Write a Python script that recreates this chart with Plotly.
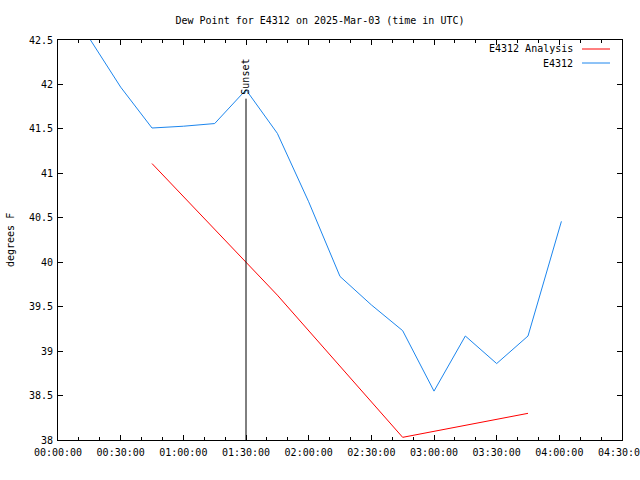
import plotly.graph_objects as go

day = "2025-03-03 "
obs_times = ["00:15:00", "00:30:00", "00:45:00", "01:00:00", "01:15:00", "01:30:00",
             "01:45:00", "02:00:00", "02:15:00", "02:30:00", "02:45:00", "03:00:00",
             "03:15:00", "03:30:00", "03:45:00", "04:01:00"]
obs_values = [42.52, 41.97, 41.51, 41.53, 41.56, 41.94, 41.45, 40.68, 39.84, 39.52,
              39.23, 38.55, 39.17, 38.86, 39.17, 40.46]

ana_times = ["00:45:00", "01:45:00", "02:45:00", "03:45:00"]
ana_values = [41.11, 39.63, 38.03, 38.30]

sunset_time = "01:30:00"
sunset_top = 41.84

tick_times = ["00:00:00", "00:30:00", "01:00:00", "01:30:00", "02:00:00",
              "02:30:00", "03:00:00", "03:30:00", "04:00:00", "04:30:00"]

FONT = "DejaVu Sans Mono"
BLUE = "#1c86ee"
RED = "#ff0000"

fig = go.Figure()
fig.add_trace(go.Scatter(x=[day + t for t in ana_times], y=ana_values, mode="lines",
                         line=dict(color=RED, width=1), name="E4312 Analysis",
                         showlegend=False))
fig.add_trace(go.Scatter(x=[day + t for t in obs_times], y=obs_values, mode="lines",
                         line=dict(color=BLUE, width=1), name="E4312",
                         showlegend=False))

fig.add_shape(type="line", xref="x", yref="y", x0=day + sunset_time, x1=day + sunset_time,
              y0=38, y1=sunset_top, line=dict(color="black", width=1))
fig.add_annotation(x=day + sunset_time, y=sunset_top, xref="x", yref="y", text="Sunset",
                   textangle=-90, showarrow=False, yanchor="bottom", xanchor="center",
                   yshift=2, font=dict(family=FONT, size=10, color="black"))

# legend drawn gnuplot-style (text then sample line)
legend_items = [("E4312 Analysis", RED), ("E4312", BLUE)]
for i, (label, col) in enumerate(legend_items):
    ypix = 49 + 14 * i
    yp = 1 - (ypix - 40) / 400.0
    fig.add_annotation(x=(575 - 58) / 564.0, y=yp, xref="paper", yref="paper", text=label,
                       showarrow=False, xanchor="right", yanchor="middle",
                       font=dict(family=FONT, size=10, color="black"))
    fig.add_shape(type="line", xref="paper", yref="paper",
                  x0=(582 - 58) / 564.0, x1=(610 - 58) / 564.0, y0=yp, y1=yp,
                  line=dict(color=col, width=1))

fig.add_annotation(x=0, y=0.5, xref="paper", yref="paper", text="degrees F", textangle=-90,
                   showarrow=False, xshift=-48, xanchor="center",
                   font=dict(family=FONT, size=10, color="black"))

# last tick label (partly beyond page edge in the original)
fig.add_annotation(x=day + tick_times[-1], y=0, xref="x", yref="paper", text=tick_times[-1],
                   showarrow=False, xanchor="center", yanchor="top", yshift=-5,
                   font=dict(family=FONT, size=10, color="black"))

fig.update_layout(
    width=640, height=480,
    margin=dict(l=58, r=18, t=40, b=40),
    paper_bgcolor="white", plot_bgcolor="white",
    title=dict(text="Dew Point for E4312 on 2025-Mar-03 (time in UTC)", x=0.5, xanchor="center",
               y=1 - 20 / 480, yanchor="middle",
               font=dict(family=FONT, size=10, color="black")),
    font=dict(family=FONT, size=10, color="black"),
    showlegend=False,
)
fig.update_xaxes(
    type="date", range=[day + "00:00:00", day + "04:30:00"],
    tickvals=[day + t for t in tick_times[:-1]], ticktext=tick_times[:-1],
    showgrid=False, zeroline=False, showline=True, linecolor="black", linewidth=1,
    mirror="ticks", ticks="inside", ticklen=5, tickcolor="black",
    ticklabelstandoff=3,
    minor=dict(dtick=600000, ticks="inside", ticklen=3, tickcolor="black", showgrid=False),
    tickfont=dict(family=FONT, size=10, color="black"),
)
fig.update_yaxes(
    range=[38, 42.5], dtick=0.5, tick0=38,
    showgrid=False, zeroline=False, showline=True, linecolor="black", linewidth=1,
    mirror="ticks", ticks="inside", ticklen=5, tickcolor="black",
    ticklabelstandoff=2,
    tickfont=dict(family=FONT, size=10, color="black"),
)

fig.write_html("out.html")
